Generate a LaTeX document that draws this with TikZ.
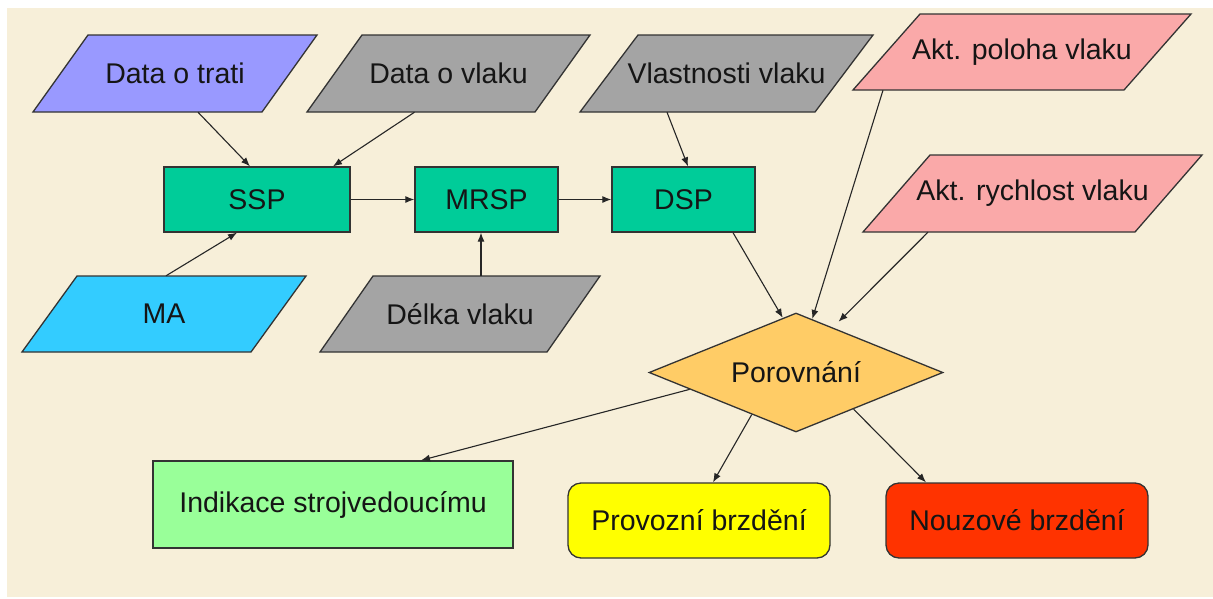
\documentclass[tikz,border=0pt]{standalone}
\usepackage{fontspec}
\setmainfont{Liberation Sans}
\usetikzlibrary{shapes.geometric,arrows.meta,calc}
\definecolor{bgbeige}{HTML}{F7EFD9}
\definecolor{cblue}{HTML}{9999FF}
\definecolor{cgray}{HTML}{A4A4A4}
\definecolor{cpink}{HTML}{FAA9A9}
\definecolor{ccyan}{HTML}{33CCFF}
\definecolor{cgreen}{HTML}{00CC99}
\definecolor{corange}{HTML}{FFCC66}
\definecolor{clight}{HTML}{99FF99}
\definecolor{cyellow}{HTML}{FFFF00}
\definecolor{cred}{HTML}{FF3300}
\definecolor{cborder}{HTML}{333333}
\definecolor{ctext}{HTML}{151515}
\tikzset{
  shapeborder/.style={draw=cborder, line width=1.3pt, line join=miter},
  txt/.style={inner sep=0pt, text=ctext, font=\fontsize{28.5}{32}\selectfont},
  boxnode/.style={shapeborder, txt, inner sep=0pt},
  conn/.style={draw=black!85, line width=1.1pt, -{Latex[length=9pt,width=7pt]}},
}
% #1 name, #2 top-left x, #3 top y, #4 width, #5 slant offset, #6 height, #7 fill, #8 text
\newcommand\pgram[8]{%
  \draw[shapeborder, fill=#7] (#2,#3) -- ++(#4,0) -- ++(-#5,#6) -- ++(-#4,0) -- cycle;
  \path (#2,#3) ++(#4/2-#5/2,#6/2) node[txt, minimum width={(#4-#5)*1pt}, minimum height={#6*1pt}] (#1) {#8};
}
\begin{document}
\begin{tikzpicture}[x=1pt,y=-1pt]
\useasboundingbox (0,0) rectangle (1213,598);
\fill[white] (0,0) rectangle (1213,598);
\fill[bgbeige] (7,8) rectangle (1213,597);

% input parallelograms
\pgram{dt}{88}{35}{229}{55}{77}{cblue}{Data o trati}
\pgram{dv}{362}{35}{228}{55}{77}{cgray}{Data o vlaku}
\pgram{vv}{638}{35}{235}{58}{77}{cgray}{Vlastnosti vlaku}
\pgram{ap}{920}{14}{271}{67}{76}{cpink}{Akt. poloha vlaku}
\pgram{ar}{930}{155}{272}{67}{77}{cpink}{Akt. rychlost vlaku}
\pgram{ma}{77}{276}{229}{55}{76}{ccyan}{MA}
\pgram{dl}{373}{276}{227}{53}{76}{cgray}{D\'elka vlaku}

% process boxes
\node[boxnode, fill=cgreen, minimum width=186pt, minimum height=65pt] (ssp) at (257,199.5) {SSP};
\node[boxnode, fill=cgreen, minimum width=143pt, minimum height=65pt] (mrsp) at (486.5,199.5) {MRSP};
\node[boxnode, fill=cgreen, minimum width=143pt, minimum height=65pt] (dsp) at (683.5,199.5) {DSP};

% decision
\node[diamond, aspect=2.45, shapeborder, txt, fill=corange, minimum width=294pt, minimum height=119pt] (dia) at (796,372.5) {Porovnání};

% outputs
\node[boxnode, fill=clight, minimum width=360pt, minimum height=87pt] (ind) at (333,504.5) {Indikace strojvedoucímu};
\node[boxnode, fill=cyellow, rounded corners=13pt, minimum width=262pt, minimum height=75pt] (prov) at (699,520.5) {Provozní brzdění};
\node[boxnode, fill=cred, rounded corners=13pt, minimum width=262pt, minimum height=75pt] (nouz) at (1017,520.5) {Nouzové brzdění};

% connectors
\draw[conn] ([xshift=23pt]dt.south) -- ([xshift=-7pt]ssp.north);
\draw[conn] ([xshift=-34pt]dv.south) -- ([xshift=76pt]ssp.north);
\draw[conn] ([xshift=2pt]ma.north) -- ([xshift=-20pt]ssp.south);
\draw[conn] (ssp.east) -- (mrsp.west);
\draw[conn] (mrsp.east) -- (dsp.west);
\draw[conn] ([xshift=21pt]dl.north) -- ([xshift=-5.5pt]mrsp.south);
\draw[conn] ([xshift=-59.5pt]vv.south) -- ([xshift=4.5pt]dsp.north);
\draw[conn] ([xshift=49.5pt]dsp.south) -- ($(dia.west)!0.91!(dia.north)$);
\draw[conn] ([xshift=-139pt]ap.south) -- ($(dia.north)!0.11!(dia.east)$);
\draw[conn, shorten >=8pt] ([xshift=-104.5pt]ar.south) -- ($(dia.north)!0.25!(dia.east)$);
\draw[conn] ($(dia.west)!0.28!(dia.south)$) -- ([xshift=88pt]ind.north);
\draw[conn] ($(dia.west)!0.7!(dia.south)$) -- ([xshift=14pt]prov.north);
\draw[conn] ($(dia.south)!0.39!(dia.east)$) -- ([xshift=-91pt]nouz.north);
\end{tikzpicture}
\end{document}
